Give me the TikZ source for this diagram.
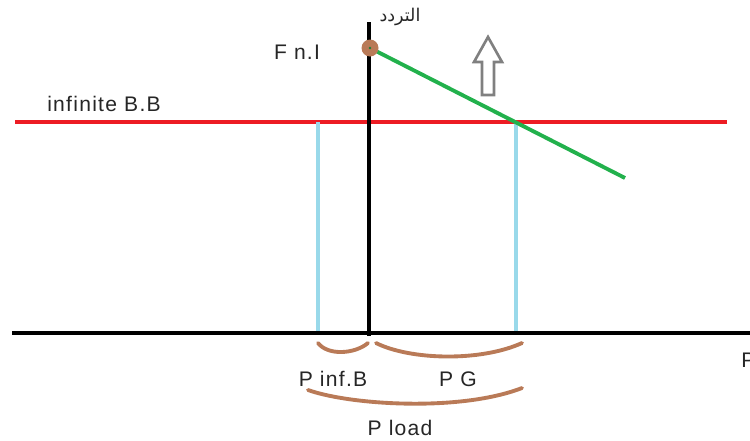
\documentclass[tikz,border=0pt]{standalone}
\usepackage{fontspec}
\setmainfont{Liberation Sans}
\newfontfamily\lblfont[LetterSpace=6]{Liberation Sans}
\newfontfamily\arabicfont[Script=Arabic]{DejaVu Sans}
\TeXXeTstate=1
\definecolor{brbrown}{HTML}{B97A57}
\definecolor{lblue}{HTML}{99D9EA}
\definecolor{gline}{HTML}{22B14C}
\definecolor{rline}{HTML}{ED1C24}
\begin{document}
\begin{tikzpicture}[x=0.02cm,y=-0.02cm,
  lbl/.style={font=\lblfont\fontsize{12}{14}\selectfont, text=black!85, inner sep=0pt},
  brace/.style={draw=brbrown, line width=2.2pt, line cap=round},
  axis/.style={draw=black, line width=2.3pt}]
\useasboundingbox (0,0) rectangle (750,440);
% red line
\coordinate (r1) at (15,122); \coordinate (r2) at (727,122);
\draw[rline, line width=1.8pt] (r1) -- (r2);
% light blue verticals
\coordinate (b1t) at (318,122); \coordinate (b1b) at (318,335);
\coordinate (b2t) at (516,122); \coordinate (b2b) at (516,335);
\draw[lblue, line width=2.2pt] (b1t) -- (b1b);
\draw[lblue, line width=2.2pt] (b2t) -- (b2b);
% axes
\coordinate (vt) at (369,22); \coordinate (vb) at (369,336);
\coordinate (hl) at (12,333); \coordinate (hr) at (750,333);
\draw[axis] (vt) -- (vb);
\draw[axis] (hl) -- (hr);
% green line
\coordinate (g1) at (370,48); \coordinate (g2) at (625,178);
\draw[gline, line width=2.2pt] (g1) -- (g2);
% brown point
\node[circle, fill=brbrown, minimum size=0.34cm, inner sep=0pt] (pt) at (370,48) {};
\fill[gline!70!black] (pt.center) circle (1.3);
% gray arrow
\draw[gray, line width=1.5pt, fill=white, line join=miter]
  (488,37) -- (502,62) -- (494,62) -- (494,95) -- (482,95) -- (482,62) -- (474,62) -- cycle;
% labels
\node[lbl] (fnl) at (297,52) {F n.I};
\node[lbl, font=\arabicfont\fontsize{10}{12}\selectfont] (freq) at (400,17) {\beginR التردد\endR};
\node[lbl] (inf) at (104,104) {infinite B.B};
\node[lbl] (pinf) at (333,379) {P inf.B};
\node[lbl] (pg) at (458,379) {P G};
\node[lbl] (pload) at (400,428) {P load};
\node[lbl, anchor=west] (p) at (741,360) {P};
% braces
\coordinate (a1) at (318,343); \coordinate (a2) at (368,343);
\draw[brace] (a1) .. controls (328,356) and (355,354) .. (a2);
\coordinate (c1) at (376,343); \coordinate (c2) at (522,343);
\draw[brace] (c1) .. controls (410,360) and (480,362) .. (c2);
\coordinate (d1) at (308,390); \coordinate (d2) at (522,388);
\draw[brace] (d1) .. controls (350,405) and (460,412) .. (d2);
\end{tikzpicture}
\end{document}
